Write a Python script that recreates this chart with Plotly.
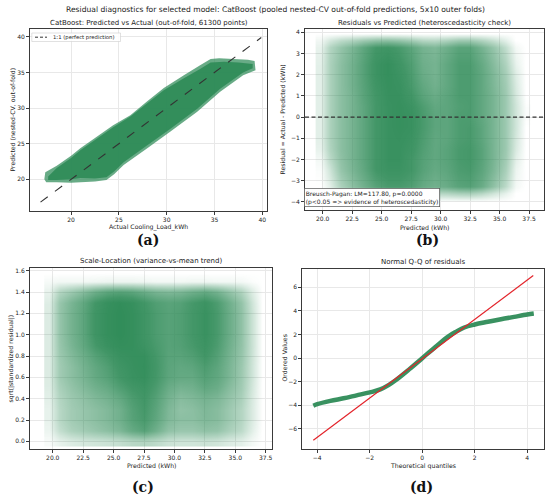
import plotly.graph_objects as go

W, H = 550, 498
FONT = "DejaVu Sans"

# ---------------- data ----------------
# (a) predicted vs actual: outer and dense-core envelope of the point cloud
cloud_a_outer_x = [17.2, 17.3, 18.5, 20.0, 21.0, 22.5, 24.4, 26.2, 28.0, 29.7, 31.8, 33.5, 34.6, 35.5, 37.0, 38.5, 39.2,
                   39.3, 38.0, 35.6, 33.2, 30.4, 27.9, 25.5, 24.5, 23.7, 22.5, 21.0, 20.0, 18.5, 17.4]
cloud_a_outer_y = [20.0, 21.0, 21.9, 23.3, 24.4, 25.8, 27.6, 29.0, 31.0, 32.8, 34.6, 36.0, 36.9, 37.0, 36.9, 36.8, 36.6,
                   35.3, 34.6, 32.3, 29.5, 26.7, 24.3, 22.0, 20.7, 19.9, 19.7, 19.6, 19.5, 19.6, 19.6]
cloud_a_core_x = [17.6, 18.5, 20.0, 21.0, 22.5, 24.4, 26.2, 28.0, 29.7, 31.8, 33.5, 34.6, 36.0, 37.5, 39.0,
                  39.0, 38.0, 35.6, 33.2, 30.4, 27.9, 25.5, 24.5, 23.7, 22.5, 21.0, 20.0, 18.5, 17.6]
cloud_a_core_y = [20.4, 21.6, 23.0, 24.1, 25.5, 27.3, 28.8, 30.7, 32.5, 34.2, 35.5, 36.4, 36.5, 36.4, 36.2,
                  35.6, 35.0, 32.7, 29.9, 27.1, 24.7, 22.4, 21.1, 20.3, 20.1, 20.2, 20.0, 19.9, 19.9]
diag_x = [16.8, 39.9]
diag_y = [16.8, 39.9]

# (b) residuals vs predicted: point density on a grid (0 = empty, 1 = solid)
dens_b_x = [19.8, 20.6, 21.5, 22.5, 23.5, 24.5, 25.5, 26.5, 27.5, 28.5, 29.5, 30.5, 31.5, 32.5, 33.5, 34.5, 35.5, 36.4, 37.2]
dens_b_y = [-4.0, -3.62, -3.25, -2.5, -2.0, -1.5, -1.0, -0.5, 0.0, 0.5, 1.0, 1.5, 2.0, 2.5, 3.3, 3.65, 3.95]
dens_b = [
    [0, 0, 0, 0, 0, 0, 0, 0, 0, 0, 0, 0, 0, 0, 0, 0, 0, 0, 0],
    [0, 0.05, 0.15, 0.25, 0.32, 0.38, 0.42, 0.42, 0.40, 0.35, 0.30, 0.32, 0.36, 0.37, 0.30, 0.20, 0.10, 0, 0],
    [0, 0.12, 0.35, 0.50, 0.62, 0.75, 0.82, 0.82, 0.78, 0.68, 0.62, 0.66, 0.74, 0.76, 0.66, 0.48, 0.28, 0.05, 0],
    [0.02, 0.20, 0.45, 0.58, 0.70, 0.85, 0.90, 0.90, 0.85, 0.75, 0.68, 0.72, 0.80, 0.82, 0.72, 0.56, 0.36, 0.08, 0],
    [0.05, 0.28, 0.48, 0.60, 0.72, 0.85, 0.92, 0.92, 0.85, 0.76, 0.70, 0.74, 0.82, 0.84, 0.74, 0.58, 0.40, 0.12, 0],
    [0.10, 0.33, 0.50, 0.60, 0.72, 0.85, 0.92, 0.92, 0.88, 0.78, 0.70, 0.74, 0.82, 0.84, 0.74, 0.58, 0.42, 0.16, 0],
    [0.12, 0.35, 0.50, 0.60, 0.72, 0.85, 0.92, 0.93, 0.90, 0.80, 0.70, 0.72, 0.80, 0.82, 0.72, 0.58, 0.42, 0.18, 0],
    [0.12, 0.35, 0.50, 0.60, 0.72, 0.85, 0.92, 0.94, 0.92, 0.82, 0.72, 0.72, 0.80, 0.82, 0.72, 0.58, 0.42, 0.20, 0],
    [0.12, 0.35, 0.50, 0.60, 0.72, 0.85, 0.92, 0.94, 0.92, 0.82, 0.72, 0.72, 0.80, 0.80, 0.70, 0.58, 0.42, 0.20, 0.02],
    [0.12, 0.35, 0.50, 0.60, 0.72, 0.85, 0.92, 0.94, 0.90, 0.80, 0.70, 0.72, 0.78, 0.80, 0.70, 0.58, 0.42, 0.20, 0.02],
    [0.12, 0.35, 0.50, 0.60, 0.74, 0.86, 0.93, 0.93, 0.86, 0.74, 0.66, 0.72, 0.80, 0.80, 0.70, 0.58, 0.42, 0.18, 0],
    [0.12, 0.35, 0.50, 0.62, 0.75, 0.88, 0.94, 0.92, 0.82, 0.70, 0.62, 0.70, 0.80, 0.80, 0.70, 0.56, 0.40, 0.16, 0],
    [0.12, 0.35, 0.50, 0.62, 0.76, 0.90, 0.95, 0.90, 0.80, 0.66, 0.60, 0.70, 0.80, 0.80, 0.70, 0.55, 0.38, 0.14, 0],
    [0.12, 0.35, 0.50, 0.62, 0.76, 0.90, 0.95, 0.88, 0.78, 0.64, 0.60, 0.70, 0.80, 0.80, 0.68, 0.52, 0.34, 0.10, 0],
    [0.10, 0.32, 0.46, 0.58, 0.72, 0.85, 0.88, 0.82, 0.72, 0.60, 0.56, 0.64, 0.74, 0.74, 0.60, 0.45, 0.26, 0.05, 0],
    [0.06, 0.18, 0.28, 0.34, 0.42, 0.48, 0.50, 0.46, 0.40, 0.32, 0.30, 0.35, 0.42, 0.42, 0.34, 0.24, 0.12, 0, 0],
    [0, 0, 0, 0, 0, 0, 0, 0, 0, 0, 0, 0, 0, 0, 0, 0, 0, 0, 0],
]

# (c) scale-location: point density on a grid
dens_c_x = [19.7, 20.5, 21.5, 22.5, 23.5, 24.5, 25.5, 26.5, 27.5, 28.5, 29.5, 30.5, 31.5, 32.5, 33.5, 34.5, 35.5, 36.4, 37.2]
dens_c_y = [0.0, 0.1, 0.2, 0.3, 0.4, 0.5, 0.6, 0.7, 0.8, 0.9, 1.0, 1.1, 1.2, 1.3, 1.4, 1.5, 1.58]
dens_c = [
    [0.03, 0.10, 0.15, 0.18, 0.20, 0.22, 0.25, 0.30, 0.32, 0.28, 0.22, 0.20, 0.20, 0.22, 0.20, 0.15, 0.12, 0.05, 0],
    [0.08, 0.25, 0.35, 0.40, 0.45, 0.50, 0.56, 0.68, 0.75, 0.62, 0.48, 0.44, 0.44, 0.48, 0.46, 0.36, 0.28, 0.12, 0],
    [0.10, 0.30, 0.40, 0.45, 0.50, 0.55, 0.62, 0.75, 0.82, 0.70, 0.55, 0.50, 0.50, 0.55, 0.52, 0.42, 0.32, 0.15, 0],
    [0.10, 0.30, 0.40, 0.45, 0.50, 0.55, 0.62, 0.76, 0.84, 0.72, 0.56, 0.48, 0.50, 0.56, 0.52, 0.42, 0.32, 0.15, 0],
    [0.12, 0.32, 0.42, 0.48, 0.55, 0.60, 0.68, 0.80, 0.86, 0.75, 0.60, 0.52, 0.55, 0.60, 0.56, 0.46, 0.36, 0.16, 0],
    [0.14, 0.36, 0.46, 0.54, 0.62, 0.68, 0.78, 0.86, 0.90, 0.80, 0.66, 0.60, 0.62, 0.70, 0.65, 0.52, 0.40, 0.18, 0],
    [0.15, 0.40, 0.50, 0.58, 0.68, 0.75, 0.85, 0.92, 0.94, 0.84, 0.72, 0.68, 0.68, 0.76, 0.70, 0.57, 0.42, 0.20, 0],
    [0.15, 0.40, 0.50, 0.60, 0.70, 0.78, 0.88, 0.93, 0.95, 0.85, 0.73, 0.70, 0.72, 0.80, 0.72, 0.58, 0.43, 0.20, 0],
    [0.15, 0.42, 0.54, 0.64, 0.76, 0.84, 0.92, 0.94, 0.94, 0.84, 0.74, 0.74, 0.78, 0.86, 0.76, 0.60, 0.45, 0.21, 0],
    [0.15, 0.44, 0.58, 0.70, 0.84, 0.92, 0.96, 0.95, 0.90, 0.82, 0.75, 0.77, 0.83, 0.90, 0.80, 0.63, 0.47, 0.22, 0],
    [0.15, 0.45, 0.60, 0.72, 0.88, 0.95, 0.98, 0.95, 0.88, 0.80, 0.75, 0.78, 0.85, 0.92, 0.82, 0.65, 0.48, 0.22, 0],
    [0.15, 0.45, 0.60, 0.72, 0.88, 0.95, 0.98, 0.95, 0.88, 0.80, 0.75, 0.78, 0.85, 0.92, 0.82, 0.65, 0.48, 0.22, 0],
    [0.15, 0.45, 0.60, 0.72, 0.88, 0.95, 0.98, 0.95, 0.88, 0.80, 0.75, 0.78, 0.85, 0.92, 0.82, 0.65, 0.48, 0.22, 0],
    [0.14, 0.44, 0.58, 0.70, 0.86, 0.94, 0.97, 0.94, 0.86, 0.78, 0.74, 0.76, 0.84, 0.90, 0.80, 0.63, 0.46, 0.20, 0],
    [0.10, 0.32, 0.42, 0.52, 0.64, 0.72, 0.75, 0.72, 0.65, 0.58, 0.55, 0.57, 0.63, 0.68, 0.60, 0.47, 0.34, 0.14, 0],
    [0.04, 0.06, 0.06, 0.06, 0.07, 0.08, 0.08, 0.08, 0.07, 0.06, 0.06, 0.06, 0.07, 0.07, 0.06, 0.06, 0.05, 0.02, 0],
    [0, 0, 0, 0, 0, 0, 0, 0, 0, 0, 0, 0, 0, 0, 0, 0, 0, 0, 0],
]

# (d) normal Q-Q
qq_theor = [-4.15, -4.0, -3.5, -3.0, -2.5, -2.0, -1.6, -1.3, -1.0, -0.5, 0.0, 0.5, 1.0, 1.3, 1.6, 2.0, 2.5, 3.0, 3.5, 4.0, 4.25]
qq_ordered = [-4.03, -3.9, -3.62, -3.4, -3.15, -2.9, -2.65, -2.3, -1.85, -0.95, 0.0, 0.95, 1.85, 2.25, 2.6, 2.85, 3.08, 3.3, 3.5, 3.7, 3.78]
qq_line_x = [-4.15, 4.23]
qq_line_y = [-6.95, 7.0]

# tick labels
ticks_a = [20, 25, 30, 35, 40]
ticks_pred = [20.0, 22.5, 25.0, 27.5, 30.0, 32.5, 35.0, 37.5]
ticks_b_y = [-4, -3, -2, -1, 0, 1, 2, 3, 4]
ticks_c_y = [0.0, 0.2, 0.4, 0.6, 0.8, 1.0, 1.2, 1.4, 1.6]
ticks_d_x = [-4, -2, 0, 2, 4]
ticks_d_y = [-6, -4, -2, 0, 2, 4, 6]

# ---------------- figure ----------------
def px_x(p):
    return p / W

def px_y(p):
    return 1 - p / H

fig = go.Figure()

# panel a
fig.add_trace(go.Scatter(x=cloud_a_outer_x, y=cloud_a_outer_y, mode="none", fill="toself",
                         fillcolor="rgba(46,139,87,0.72)", xaxis="x", yaxis="y", showlegend=False, hoverinfo="skip"))
fig.add_trace(go.Scatter(x=cloud_a_core_x, y=cloud_a_core_y, mode="none", fill="toself",
                         fillcolor="rgba(46,139,87,0.9)", xaxis="x", yaxis="y", showlegend=False, hoverinfo="skip"))
fig.add_trace(go.Scatter(x=diag_x, y=diag_y, mode="lines", name="1:1 (perfect prediction)",
                         line=dict(color="#333333", width=1.1, dash="dash"), xaxis="x", yaxis="y", showlegend=False))

cs = [[0, "rgba(46,139,87,0)"], [0.3, "rgba(46,139,87,0.34)"], [0.6, "rgba(46,139,87,0.66)"],
      [0.85, "rgba(46,139,87,0.9)"], [1, "rgba(46,139,87,1)"]]
# panel b
fig.add_trace(go.Heatmap(x=dens_b_x, y=dens_b_y, z=dens_b, zmin=0, zmax=1, colorscale=cs, showscale=False,
                         zsmooth="best", xaxis="x2", yaxis="y2", hoverinfo="skip"))
# panel c
fig.add_trace(go.Heatmap(x=dens_c_x, y=dens_c_y, z=dens_c, zmin=0, zmax=1, colorscale=cs, showscale=False,
                         zsmooth="best", xaxis="x3", yaxis="y3", hoverinfo="skip"))
# panel d
fig.add_trace(go.Scatter(x=qq_theor, y=qq_ordered, mode="lines", line=dict(color="rgba(46,139,87,0.95)", width=4.5, shape="spline"),
                         xaxis="x4", yaxis="y4", showlegend=False, hoverinfo="skip"))
fig.add_trace(go.Scatter(x=qq_line_x, y=qq_line_y, mode="lines", line=dict(color="#e3242b", width=1.2),
                         xaxis="x4", yaxis="y4", showlegend=False, hoverinfo="skip"))

fig.add_shape(type="line", xref="x2 domain", yref="y2", x0=0, x1=1, y0=0, y1=0,
              line=dict(color="#333333", width=1.2, dash="4px,2.5px"))

# legend of panel a (box, dashed sample, label)
fig.add_shape(type="rect", xref="paper", yref="paper", x0=px_x(31.8), x1=px_x(120.5), y0=px_y(41.5), y1=px_y(33),
              line=dict(color="#cccccc", width=0.6), fillcolor="rgba(255,255,255,0.85)", layer="above")
fig.add_shape(type="line", xref="paper", yref="paper", x0=px_x(35), x1=px_x(47), y0=px_y(37.2), y1=px_y(37.2),
              line=dict(color="#333333", width=1.0, dash="3px,2px"), layer="above")

axis_common = dict(showline=True, linecolor="#3a3a3a", linewidth=0.9, mirror=True,
                   showgrid=True, gridcolor="#e8e8e8", gridwidth=0.6, zeroline=False,
                   ticks="outside", ticklen=3, tickwidth=0.7, tickcolor="#3a3a3a",
                   tickfont=dict(family=FONT, size=6, color="#222222"), automargin=False)

doms = {
    "a": ([30, 267], [29, 211]),
    "b": ([305, 544], [29, 210]),
    "c": ([30, 272], [268, 448.7]),
    "d": ([302.3, 544.3], [268.7, 448.7]),
}

def dom_x(k):
    return [px_x(doms[k][0][0]), px_x(doms[k][0][1])]

def dom_y(k):
    return [px_y(doms[k][1][1]), px_y(doms[k][1][0])]

fig.update_layout(
    xaxis=dict(domain=dom_x("a"), range=[15.7, 40.5], tickvals=ticks_a, anchor="y", **axis_common),
    yaxis=dict(domain=dom_y("a"), range=[15.55, 41.1], tickvals=ticks_a, anchor="x", **axis_common),
    xaxis2=dict(domain=dom_x("b"), range=[18.5, 38.77], tickvals=ticks_pred, tickformat=".1f", anchor="y2", **axis_common),
    yaxis2=dict(domain=dom_y("b"), range=[-4.39, 4.16], tickvals=ticks_b_y, anchor="x2", **axis_common),
    xaxis3=dict(domain=dom_x("c"), range=[18.13, 38.02], tickvals=ticks_pred, tickformat=".1f", anchor="y3", **axis_common),
    yaxis3=dict(domain=dom_y("c"), range=[-0.069, 1.625], tickvals=ticks_c_y, tickformat=".1f", anchor="x3", **axis_common),
    xaxis4=dict(domain=dom_x("d"), range=[-4.57, 4.65], tickvals=ticks_d_x, anchor="y4", **axis_common),
    yaxis4=dict(domain=dom_y("d"), range=[-7.67, 7.58], tickvals=ticks_d_y, anchor="x4", **axis_common),
    width=W, height=H, margin=dict(l=0, r=0, t=0, b=0),
    paper_bgcolor="white", plot_bgcolor="white",
    font=dict(family=FONT, size=6, color="#222222"),
    showlegend=False,
)

def ann(text, x, y, size, rot=0, family=FONT, color="#222222", xanchor="center", **kw):
    fig.add_annotation(text=text, x=px_x(x), y=px_y(y), xref="paper", yref="paper", showarrow=False,
                       textangle=rot, font=dict(family=family, size=size, color=color),
                       xanchor=xanchor, yanchor="middle", **kw)

ann("Residual diagnostics for selected model: CatBoost (pooled nested-CV out-of-fold predictions, 5x10 outer folds)",
    275, 9.5, 7.6)
ann("CatBoost: Predicted vs Actual (out-of-fold, 61300 points)", 148.5, 22.5, 7)
ann("Residuals vs Predicted (heteroscedasticity check)", 424.5, 22.5, 7)
ann("Scale-Location (variance-vs-mean trend)", 151, 261, 7)
ann("Normal Q-Q of residuals", 423, 261.5, 7)

ann("1:1 (perfect prediction)", 50.5, 37.2, 5.3, xanchor="left")

ann("Actual Cooling_Load_kWh", 148.5, 227, 6.2)
ann("Predicted (nested-CV, out-of-fold)", 11.5, 120, 6.2, rot=-90)
ann("Predicted (kWh)", 424.5, 227, 6.2)
ann("Residual = Actual - Predicted (kWh)", 282, 119.5, 6.2, rot=-90)
ann("Predicted (kWh)", 151, 465.5, 6.2)
ann("sqrt(|standardized residual|)", 10, 358.5, 6.2, rot=-90)
ann("Theoretical quantiles", 423, 465.5, 6.2)
ann("Ordered Values", 284, 358.5, 6.2, rot=-90)

ann("<b>(a)</b>", 148, 240, 14, family="DejaVu Serif", color="#111111")
ann("<b>(b)</b>", 427, 240, 14, family="DejaVu Serif", color="#111111")
ann("<b>(c)</b>", 143, 486.5, 14, family="DejaVu Serif", color="#111111")
ann("<b>(d)</b>", 422, 486.5, 14, family="DejaVu Serif", color="#111111")

fig.add_annotation(text="Breusch-Pagan: LM=117.80, p=0.0000<br>(p&lt;0.05 =&gt; evidence of heteroscedasticity)",
                   x=px_x(304), y=px_y(206.5), xref="paper", yref="paper", showarrow=False,
                   xanchor="left", yanchor="bottom", align="left",
                   font=dict(family=FONT, size=6, color="#222222"),
                   bgcolor="white", bordercolor="#555555", borderwidth=0.7, borderpad=1)

fig.write_html("out.html", config={"displayModeBar": False},
               post_script="document.body.style.margin='0px';document.body.style.overflow='hidden';")
